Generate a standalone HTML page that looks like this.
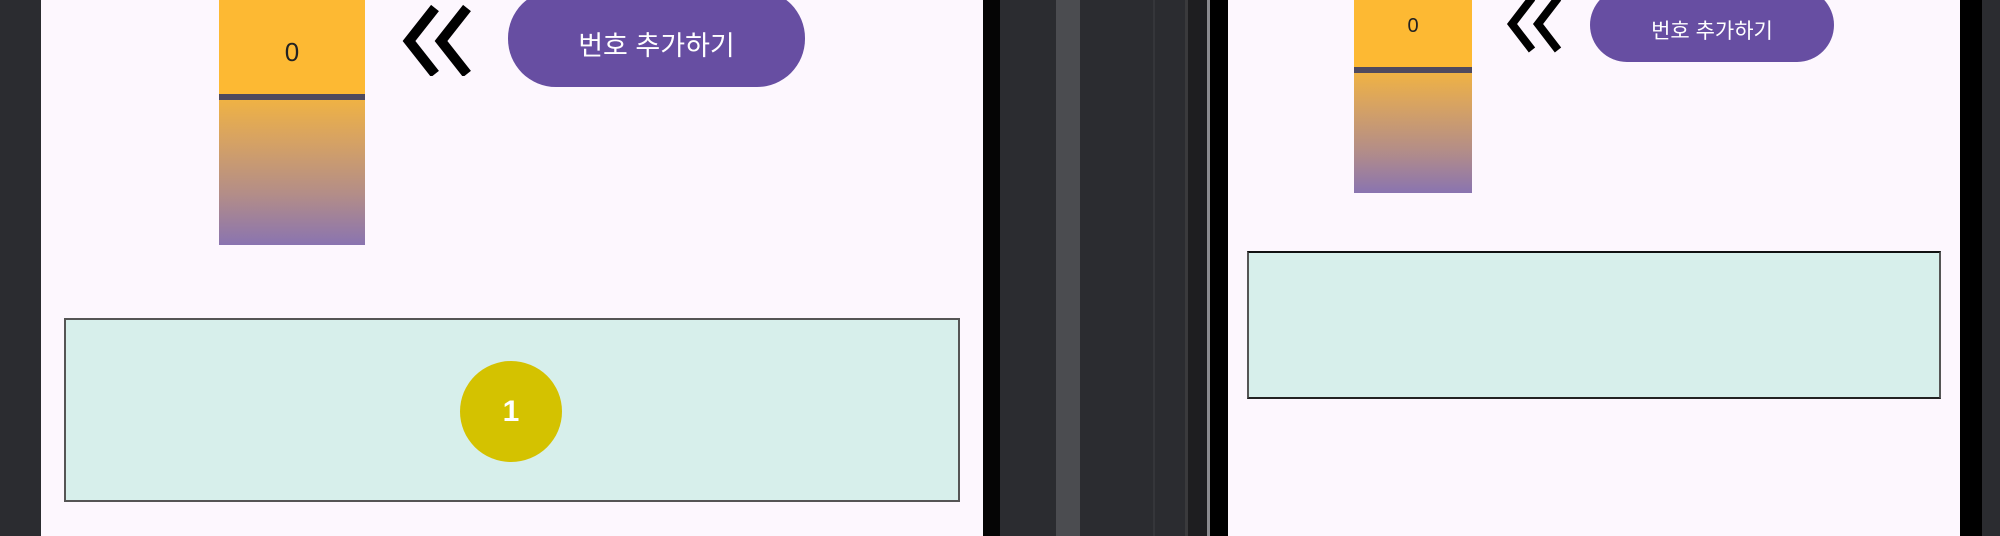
<!DOCTYPE html>
<html><head><meta charset="utf-8"><style>
body{margin:0;width:2000px;height:536px;overflow:hidden;background:#2b2c30;position:relative;font-family:"Liberation Sans","Noto Sans CJK KR",sans-serif}
div{position:absolute;box-sizing:border-box}
.grad{background:linear-gradient(#efb244,#d9a460 25%,#b38d88 65%,#8a74b0)}
.btn{background:#674ea2;color:#fff;display:flex;align-items:center;justify-content:center}
.teal{background:#d7efeb;border:2px solid #555}
.chev{stroke:#000;fill:none;stroke-linecap:butt}
</style></head><body>
<div style="left:41px;top:0;width:942px;height:536px;background:#fdf7fe">
  <div style="left:178px;top:0;width:146px;height:94px;background:#fdb933;display:flex;align-items:center;justify-content:center;font-size:26px;color:#222;padding-top:10px">0</div>
  <div style="left:178px;top:94px;width:146px;height:6px;background:#4f4a5e"></div>
  <div class="grad" style="left:178px;top:100px;width:146px;height:145px"></div>
  <svg style="position:absolute;left:360px;top:4px" width="74" height="72"><polyline class="chev" stroke-width="10" points="34,4 8,37 34,70"/><polyline class="chev" stroke-width="10" points="66,4 40,37 66,70"/></svg>
  <div class="btn" style="left:467px;top:-10px;width:297px;height:97px;border-radius:48px;font-size:27px;padding-top:10px">번호 추가하기</div>
  <div class="teal" style="left:23px;top:318px;width:896px;height:184px"></div>
  <div style="left:419px;top:361px;width:102px;height:101px;border-radius:50%;background:#d4c200;color:#fff;font-weight:bold;font-size:30px;display:flex;align-items:center;justify-content:center">1</div>
</div>
<div style="left:983px;top:0;width:17px;height:536px;background:#050505"></div>
<div style="left:1056px;top:0;width:24px;height:536px;background:#4b4c50"></div>
<div style="left:1153px;top:0;width:2px;height:536px;background:#35363a"></div>
<div style="left:1185px;top:0;width:25px;height:536px;background:#1e1e20;border-left:3px solid #3a3a3c;border-right:3px solid #8a8a8e"></div>
<div style="left:1210px;top:0;width:18px;height:536px;background:#000"></div>
<div style="left:1228px;top:0;width:732px;height:536px;background:#fdf7fe">
  <div style="left:126px;top:0;width:118px;height:67px;background:#fdb933;display:flex;align-items:center;justify-content:center;font-size:20px;color:#222;padding-bottom:14px">0</div>
  <div style="left:126px;top:67px;width:118px;height:6px;background:#4f4a5e"></div>
  <div class="grad" style="left:126px;top:73px;width:118px;height:120px"></div>
  <svg style="position:absolute;left:276px;top:-4px" width="58" height="58"><polyline class="chev" stroke-width="8" points="28,2 8,28 28,54"/><polyline class="chev" stroke-width="8" points="54,2 34,28 54,54"/></svg>
  <div class="btn" style="left:362px;top:-12px;width:244px;height:74px;border-radius:37px;font-size:21px;padding-top:10px">번호 추가하기</div>
  <div class="teal" style="left:19px;top:251px;width:694px;height:148px;border-top-color:#111;border-bottom-color:#222"></div>
</div>
<div style="left:1960px;top:0;width:22px;height:536px;background:#000"></div>
</body></html>
